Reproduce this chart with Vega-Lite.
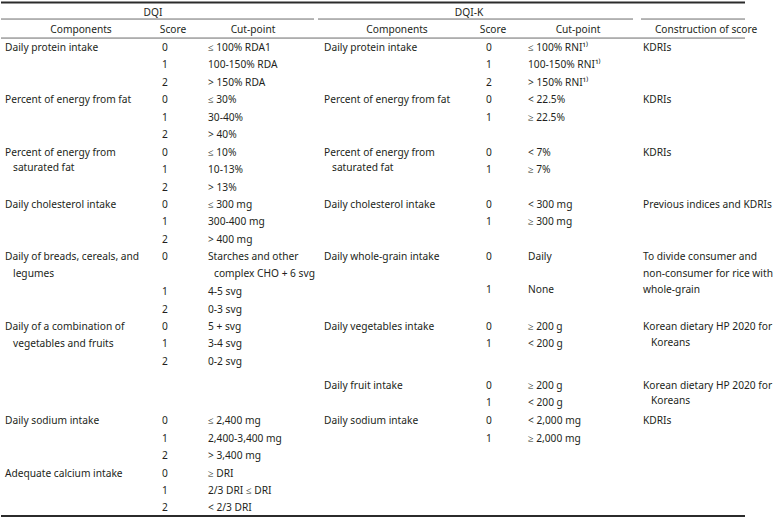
{
  "$schema": "https://vega.github.io/schema/vega-lite/v6.json",
  "autosize": {"type": "fit", "contains": "padding"},
  "width": 783,
  "height": 523,
  "padding": 0,
  "background": "white",
  "config": {"view": {"stroke": null}},
  "datasets": {
    "cells": [
      {"kind": "h", "col": 4, "line": -2.0, "t": "DQI"},
      {"kind": "h", "col": 15, "line": -2.0, "t": "DQI-K"},
      {"kind": "h", "col": 3, "line": -1.03, "t": "Components"},
      {"kind": "h", "col": 6, "line": -1.03, "t": "Score"},
      {"kind": "h", "col": 9, "line": -1.03, "t": "Cut-point"},
      {"kind": "h", "col": 14, "line": -1.03, "t": "Components"},
      {"kind": "h", "col": 17, "line": -1.03, "t": "Score"},
      {"kind": "h", "col": 19, "line": -1.03, "t": "Cut-point"},
      {"kind": "h", "col": 24, "line": -1.03, "t": "Construction of score"},

      {"kind": "c", "col": 1, "line": 0, "t": "Daily protein intake"},
      {"kind": "c", "col": 1, "line": 3, "t": "Percent of energy from fat"},
      {"kind": "c", "col": 1, "line": 6, "t": "Percent of energy from"},
      {"kind": "c", "col": 2, "line": 6.9, "t": "saturated fat"},
      {"kind": "c", "col": 1, "line": 9, "t": "Daily cholesterol intake"},
      {"kind": "c", "col": 1, "line": 12, "t": "Daily of breads, cereals, and"},
      {"kind": "c", "col": 2, "line": 12.95, "t": "legumes"},
      {"kind": "c", "col": 1, "line": 16, "t": "Daily of a combination of"},
      {"kind": "c", "col": 2, "line": 16.95, "t": "vegetables and fruits"},
      {"kind": "c", "col": 1, "line": 21.4, "t": "Daily sodium intake"},
      {"kind": "c", "col": 1, "line": 24.4, "t": "Adequate calcium intake"},

      {"kind": "c", "col": 5, "line": 0, "t": "0"},
      {"kind": "c", "col": 5, "line": 1, "t": "1"},
      {"kind": "c", "col": 5, "line": 2, "t": "2"},
      {"kind": "c", "col": 5, "line": 3, "t": "0"},
      {"kind": "c", "col": 5, "line": 4, "t": "1"},
      {"kind": "c", "col": 5, "line": 5, "t": "2"},
      {"kind": "c", "col": 5, "line": 6, "t": "0"},
      {"kind": "c", "col": 5, "line": 7, "t": "1"},
      {"kind": "c", "col": 5, "line": 8, "t": "2"},
      {"kind": "c", "col": 5, "line": 9, "t": "0"},
      {"kind": "c", "col": 5, "line": 10, "t": "1"},
      {"kind": "c", "col": 5, "line": 11, "t": "2"},
      {"kind": "c", "col": 5, "line": 12, "t": "0"},
      {"kind": "c", "col": 5, "line": 14, "t": "1"},
      {"kind": "c", "col": 5, "line": 15, "t": "2"},
      {"kind": "c", "col": 5, "line": 16, "t": "0"},
      {"kind": "c", "col": 5, "line": 17, "t": "1"},
      {"kind": "c", "col": 5, "line": 18, "t": "2"},
      {"kind": "c", "col": 5, "line": 21.4, "t": "0"},
      {"kind": "c", "col": 5, "line": 22.4, "t": "1"},
      {"kind": "c", "col": 5, "line": 23.4, "t": "2"},
      {"kind": "c", "col": 5, "line": 24.4, "t": "0"},
      {"kind": "c", "col": 5, "line": 25.4, "t": "1"},
      {"kind": "c", "col": 5, "line": 26.4, "t": "2"},

      {"kind": "c", "col": 7, "line": 0, "t": "≤ 100% RDA1"},
      {"kind": "c", "col": 7, "line": 1, "t": "100-150% RDA"},
      {"kind": "c", "col": 7, "line": 2, "t": "> 150% RDA"},
      {"kind": "c", "col": 7, "line": 3, "t": "≤ 30%"},
      {"kind": "c", "col": 7, "line": 4, "t": "30-40%"},
      {"kind": "c", "col": 7, "line": 5, "t": "> 40%"},
      {"kind": "c", "col": 7, "line": 6, "t": "≤ 10%"},
      {"kind": "c", "col": 7, "line": 7, "t": "10-13%"},
      {"kind": "c", "col": 7, "line": 8, "t": "> 13%"},
      {"kind": "c", "col": 7, "line": 9, "t": "≤ 300 mg"},
      {"kind": "c", "col": 7, "line": 10, "t": "300-400 mg"},
      {"kind": "c", "col": 7, "line": 11, "t": "> 400 mg"},
      {"kind": "c", "col": 7, "line": 12, "t": "Starches and other"},
      {"kind": "c", "col": 8, "line": 12.95, "t": "complex CHO + 6 svg"},
      {"kind": "c", "col": 7, "line": 14, "t": "4-5 svg"},
      {"kind": "c", "col": 7, "line": 15, "t": "0-3 svg"},
      {"kind": "c", "col": 7, "line": 16, "t": "5 +  svg"},
      {"kind": "c", "col": 7, "line": 17, "t": "3-4 svg"},
      {"kind": "c", "col": 7, "line": 18, "t": "0-2 svg"},
      {"kind": "c", "col": 7, "line": 21.4, "t": "≤ 2,400 mg"},
      {"kind": "c", "col": 7, "line": 22.4, "t": "2,400-3,400 mg"},
      {"kind": "c", "col": 7, "line": 23.4, "t": "> 3,400 mg"},
      {"kind": "c", "col": 7, "line": 24.4, "t": "≥ DRI"},
      {"kind": "c", "col": 7, "line": 25.4, "t": "2/3 DRI ≤ DRI"},
      {"kind": "c", "col": 7, "line": 26.4, "t": "< 2/3 DRI"},

      {"kind": "c", "col": 12, "line": 0, "t": "Daily protein intake"},
      {"kind": "c", "col": 12, "line": 3, "t": "Percent of energy from fat"},
      {"kind": "c", "col": 12, "line": 6, "t": "Percent of energy from"},
      {"kind": "c", "col": 13, "line": 6.9, "t": "saturated fat"},
      {"kind": "c", "col": 12, "line": 9, "t": "Daily cholesterol intake"},
      {"kind": "c", "col": 12, "line": 12, "t": "Daily whole-grain intake"},
      {"kind": "c", "col": 12, "line": 16, "t": "Daily vegetables intake"},
      {"kind": "c", "col": 12, "line": 19.38, "t": "Daily fruit intake"},
      {"kind": "c", "col": 12, "line": 21.4, "t": "Daily sodium intake"},

      {"kind": "c", "col": 16, "line": 0, "t": "0"},
      {"kind": "c", "col": 16, "line": 1, "t": "1"},
      {"kind": "c", "col": 16, "line": 2, "t": "2"},
      {"kind": "c", "col": 16, "line": 3, "t": "0"},
      {"kind": "c", "col": 16, "line": 4, "t": "1"},
      {"kind": "c", "col": 16, "line": 6, "t": "0"},
      {"kind": "c", "col": 16, "line": 7, "t": "1"},
      {"kind": "c", "col": 16, "line": 9, "t": "0"},
      {"kind": "c", "col": 16, "line": 10, "t": "1"},
      {"kind": "c", "col": 16, "line": 12, "t": "0"},
      {"kind": "c", "col": 16, "line": 13.9, "t": "1"},
      {"kind": "c", "col": 16, "line": 16, "t": "0"},
      {"kind": "c", "col": 16, "line": 17, "t": "1"},
      {"kind": "c", "col": 16, "line": 19.38, "t": "0"},
      {"kind": "c", "col": 16, "line": 20.35, "t": "1"},
      {"kind": "c", "col": 16, "line": 21.4, "t": "0"},
      {"kind": "c", "col": 16, "line": 22.4, "t": "1"},

      {"kind": "c", "col": 18, "line": 0, "t": "≤ 100% RNI¹⁾"},
      {"kind": "c", "col": 18, "line": 1, "t": "100-150% RNI¹⁾"},
      {"kind": "c", "col": 18, "line": 2, "t": "> 150% RNI¹⁾"},
      {"kind": "c", "col": 18, "line": 3, "t": "< 22.5%"},
      {"kind": "c", "col": 18, "line": 4, "t": "≥ 22.5%"},
      {"kind": "c", "col": 18, "line": 6, "t": "< 7%"},
      {"kind": "c", "col": 18, "line": 7, "t": "≥ 7%"},
      {"kind": "c", "col": 18, "line": 9, "t": "< 300 mg"},
      {"kind": "c", "col": 18, "line": 10, "t": "≥ 300 mg"},
      {"kind": "c", "col": 18, "line": 12, "t": "Daily"},
      {"kind": "c", "col": 18, "line": 13.9, "t": "None"},
      {"kind": "c", "col": 18, "line": 16, "t": "≥ 200 g"},
      {"kind": "c", "col": 18, "line": 17, "t": "< 200 g"},
      {"kind": "c", "col": 18, "line": 19.38, "t": "≥ 200 g"},
      {"kind": "c", "col": 18, "line": 20.35, "t": "< 200 g"},
      {"kind": "c", "col": 18, "line": 21.4, "t": "< 2,000 mg"},
      {"kind": "c", "col": 18, "line": 22.4, "t": "≥ 2,000 mg"},

      {"kind": "c", "col": 22, "line": 0, "t": "KDRIs"},
      {"kind": "c", "col": 22, "line": 3, "t": "KDRIs"},
      {"kind": "c", "col": 22, "line": 6, "t": "KDRIs"},
      {"kind": "c", "col": 22, "line": 9, "t": "Previous indices and KDRIs"},
      {"kind": "c", "col": 22, "line": 12, "t": "To divide consumer and"},
      {"kind": "c", "col": 22, "line": 12.95, "t": "non-consumer for rice with"},
      {"kind": "c", "col": 22, "line": 13.9, "t": "whole-grain"},
      {"kind": "c", "col": 22, "line": 16, "t": "Korean dietary HP 2020 for"},
      {"kind": "c", "col": 23, "line": 16.9, "t": "Koreans"},
      {"kind": "c", "col": 22, "line": 19.38, "t": "Korean dietary HP 2020 for"},
      {"kind": "c", "col": 23, "line": 20.25, "t": "Koreans"},
      {"kind": "c", "col": 22, "line": 21.4, "t": "KDRIs"}
    ],
    "rules": [
      {"kind": "thick", "from": 0, "to": 25, "line": -2.61},
      {"kind": "thick", "from": 0, "to": 25, "line": 26.83},
      {"kind": "thin", "from": 0, "to": 10, "line": -1.66},
      {"kind": "thin", "from": 11, "to": 20, "line": -1.66},
      {"kind": "thin", "from": 21, "to": 25, "line": -1.66},
      {"kind": "thin", "from": 0, "to": 25, "line": -0.57}
    ]
  },
  "layer": [
    {
      "data": {"name": "rules"},
      "transform": [{"filter": "datum.kind === 'thick'"}],
      "mark": {"type": "rule", "stroke": "#2b2b2b", "strokeWidth": 2},
      "encoding": {
        "x": {"field": "from", "type": "quantitative", "axis": null,
              "scale": {"domain": [0,1,2,3,4,5,6,7,8,9,10,11,12,13,14,15,16,17,18,19,20,21,22,23,24,25],
                        "range": [0,4,12,80,152,161,172,207,213,252,313,317,323,331,396,468,485,492,527,577,632,640,642,650,705,783]}},
        "x2": {"field": "to"},
        "y": {"field": "line", "type": "quantitative", "axis": null,
              "scale": {"domain": [-2.752, 27.236], "reverse": true, "zero": false, "nice": false}}
      }
    },
    {
      "data": {"name": "rules"},
      "transform": [{"filter": "datum.kind === 'thin'"}],
      "mark": {"type": "rule", "stroke": "#6b6b6b", "strokeWidth": 1},
      "encoding": {
        "x": {"field": "from", "type": "quantitative", "axis": null},
        "x2": {"field": "to"},
        "y": {"field": "line", "type": "quantitative", "axis": null}
      }
    },
    {
      "data": {"name": "cells"},
      "transform": [{"filter": "datum.kind === 'h'"}],
      "mark": {"type": "text", "align": "center", "baseline": "middle", "font": "Noto Sans", "fontSize": 10.2, "color": "#231f20"},
      "encoding": {
        "x": {"field": "col", "type": "quantitative", "axis": null},
        "y": {"field": "line", "type": "quantitative", "axis": null},
        "text": {"field": "t"}
      }
    },
    {
      "data": {"name": "cells"},
      "transform": [{"filter": "datum.kind === 'c'"}],
      "mark": {"type": "text", "align": "left", "baseline": "middle", "font": "Noto Sans", "fontSize": 10.2, "color": "#231f20"},
      "encoding": {
        "x": {"field": "col", "type": "quantitative", "axis": null},
        "y": {"field": "line", "type": "quantitative", "axis": null},
        "text": {"field": "t"}
      }
    }
  ]
}
